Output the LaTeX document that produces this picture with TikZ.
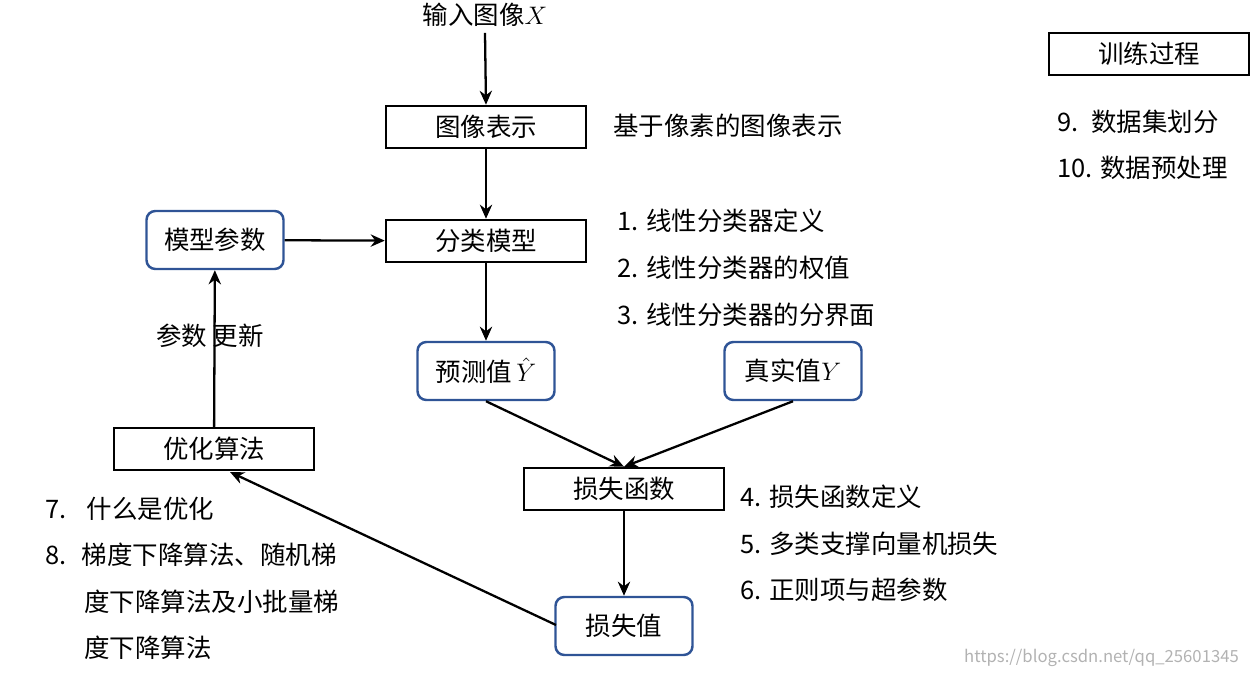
\documentclass[tikz,border=0pt]{standalone}
\usepackage{fontspec}
\setmainfont{Noto Sans CJK SC}
\usetikzlibrary{arrows.meta}
\definecolor{bblue}{RGB}{47,84,150}
\begin{document}
\begin{tikzpicture}[x=0.02cm,y=-0.02cm,
  every node/.style={font=\fontsize{14.5}{17}\selectfont},
  sq/.style={draw=black,line width=1.4pt,minimum width=200*0.02cm,minimum height=42*0.02cm,inner sep=0pt},
  rd/.style={draw=bblue,line width=1.4pt,rounded corners=5pt,minimum width=137*0.02cm,minimum height=58*0.02cm,inner sep=0pt},
  arr/.style={-{Stealth[length=8pt,width=7pt]},line width=1.3pt},
  txt/.style={anchor=west,inner sep=0pt}]
\useasboundingbox (0,0) rectangle (1252,676);
\node (in) at (485,15) {输入图像$X$};
\node[sq] (rep) at (486,127) {图像表示};
\node[txt] (repd) at (613,126) {基于像素的图像表示};
\node[sq] (cls) at (486,241) {分类模型};
\node[rd] (par) at (215,240) {模型参数};
\node[rd] (pred) at (486,371) {预测值\,$\hat{Y}$};
\node[rd] (true) at (793,371) {真实值$Y$};
\node[sq] (lossf) at (624,489) {损失函数};
\node[rd] (lossv) at (624,626) {损失值};
\node[sq] (opt) at (214,449) {优化算法};
\node (upd) at (210,336) {参数 更新};
\node[sq] (train) at (1149,54) {训练过程};
\coordinate (lt) at (556,625);
\coordinate (oh) at (230,472);
\draw[arr] (in.south) -- (rep.north);
\draw[arr] (rep) -- (cls);
\draw[arr] (par) -- (cls);
\draw[arr] (cls) -- (pred);
\draw[arr] (pred.south) -- (lossf.north);
\draw[arr] (true.south) -- (lossf.north);
\draw[arr] (lossf) -- (lossv);
\draw[arr] (lt) -- (oh);
\draw[arr] (opt) -- (par);
\node[txt] (l1) at (617,221) {1. 线性分类器定义};
\node[txt] (l2) at (617,268) {2. 线性分类器的权值};
\node[txt] (l3) at (617,315) {3. 线性分类器的分界面};
\node[txt] (l4) at (740,497) {4. 损失函数定义};
\node[txt] (l5) at (740,544) {5. 多类支撑向量机损失};
\node[txt] (l6) at (740,590) {6. 正则项与超参数};
\node[txt] (l7) at (45,509) {7.\hspace{0.8em}什么是优化};
\node[txt] (l8) at (45,555) {8.\hspace{0.6em}梯度下降算法、随机梯};
\node[txt] (l8b) at (84,602) {度下降算法及小批量梯};
\node[txt] (l8c) at (84,648) {度下降算法};
\node[txt] (l9) at (1057,122) {9.\hspace{0.5em}数据集划分};
\node[txt] (l10) at (1057,168) {10. 数据预处理};
\node[anchor=east,text=gray!60,font=\fontsize{9.5}{10}\selectfont] (wm) at (1245,658) {https://blog.csdn.net/qq\_25601345};
\end{tikzpicture}
\end{document}
